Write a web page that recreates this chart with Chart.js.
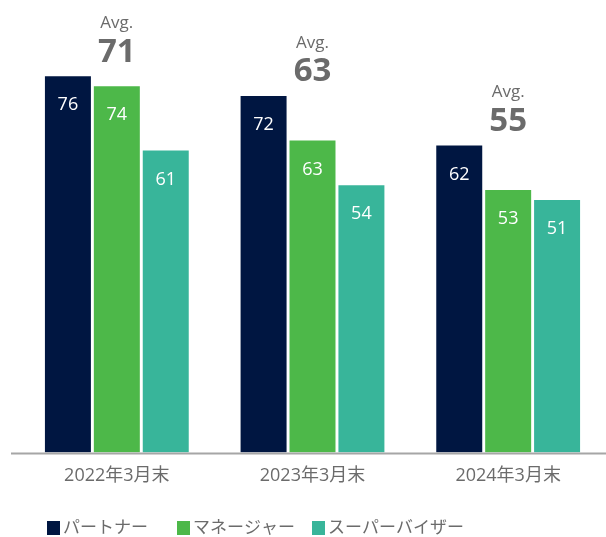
<!DOCTYPE html>
<html>
<head>
<meta charset="utf-8">
<script src="https://cdn.jsdelivr.net/npm/chart.js@4/dist/chart.umd.min.js"></script>
<style>
html,body{margin:0;padding:0;background:#fff;}
#wrap{width:606px;height:537px;position:relative;}
</style>
</head>
<body>
<div id="wrap"><canvas id="c" width="606" height="537"></canvas></div>
<script>
const categories = ['2022年3月末', '2023年3月末', '2024年3月末'];
const seriesNames = ['パートナー', 'マネージャー', 'スーパーバイザー'];
const partner = [76, 72, 62];
const manager = [74, 63, 53];
const supervisor = [61, 54, 51];
const averages = [71, 63, 55];
const colors = ['#001641', '#4db849', '#38b59a'];
const FONT = "'Open Sans','Noto Sans CJK JP',sans-serif";
const GREY = '#6b6b6b';
const legendX = [47, 177, 312];

const labelPlugin = {
  id: 'customDraw',
  afterDatasetsDraw(chart) {
    const ctx = chart.ctx;
    const ys = chart.scales.y;
    const xs = chart.scales.x;
    ctx.save();
    ctx.fillStyle = '#ffffff';
    ctx.font = '18px ' + FONT;
    ctx.textAlign = 'center';
    ctx.textBaseline = 'middle';
    chart.data.datasets.forEach((ds, di) => {
      const meta = chart.getDatasetMeta(di);
      meta.data.forEach((bar, i) => {
        ctx.fillText(String(ds.data[i]), bar.x, bar.y + 29);
      });
    });
    categories.forEach((c, i) => {
      const maxVal = Math.max(partner[i], manager[i], supervisor[i]);
      const top = ys.getPixelForValue(maxVal);
      const cx = xs.getPixelForValue(i);
      ctx.fillStyle = GREY;
      ctx.font = '17px ' + FONT;
      ctx.fillText('Avg.', cx, top - 53);
      ctx.font = 'bold 33px ' + FONT;
      ctx.fillText(String(averages[i]), cx, top - 24);
    });
    const by = ys.getPixelForValue(0);
    ctx.strokeStyle = '#a6a6a6';
    ctx.lineWidth = 2;
    ctx.beginPath();
    ctx.moveTo(11, by + 1);
    ctx.lineTo(606, by + 1);
    ctx.stroke();
    const ly = 528;
    ctx.font = '17px ' + FONT;
    ctx.textAlign = 'left';
    ctx.textBaseline = 'middle';
    chart.data.datasets.forEach((ds, di) => {
      const x = legendX[di];
      ctx.fillStyle = ds.backgroundColor;
      ctx.fillRect(x, ly - 7, 13, 14);
      ctx.fillStyle = GREY;
      ctx.fillText(ds.label, x + 16, ly);
    });
    ctx.restore();
  }
};

new Chart(document.getElementById('c'), {
  type: 'bar',
  data: {
    labels: categories,
    datasets: [
      { label: seriesNames[0], data: partner, backgroundColor: colors[0] },
      { label: seriesNames[1], data: manager, backgroundColor: colors[1] },
      { label: seriesNames[2], data: supervisor, backgroundColor: colors[2] }
    ]
  },
  options: {
    responsive: false,
    animation: false,
    devicePixelRatio: 1,
    categoryPercentage: 0.75,
    barPercentage: 0.94,
    layout: { padding: { left: 19, right: -2, top: 7, bottom: 37 } },
    plugins: { legend: { display: false }, tooltip: { enabled: false } },
    scales: {
      x: {
        grid: { display: false, drawTicks: false },
        border: { display: false },
        ticks: { color: GREY, font: { family: FONT, size: 18 }, padding: 13 }
      },
      y: {
        display: false,
        min: 0,
        max: 90
      }
    }
  },
  plugins: [labelPlugin]
});
</script>
</body>
</html>
